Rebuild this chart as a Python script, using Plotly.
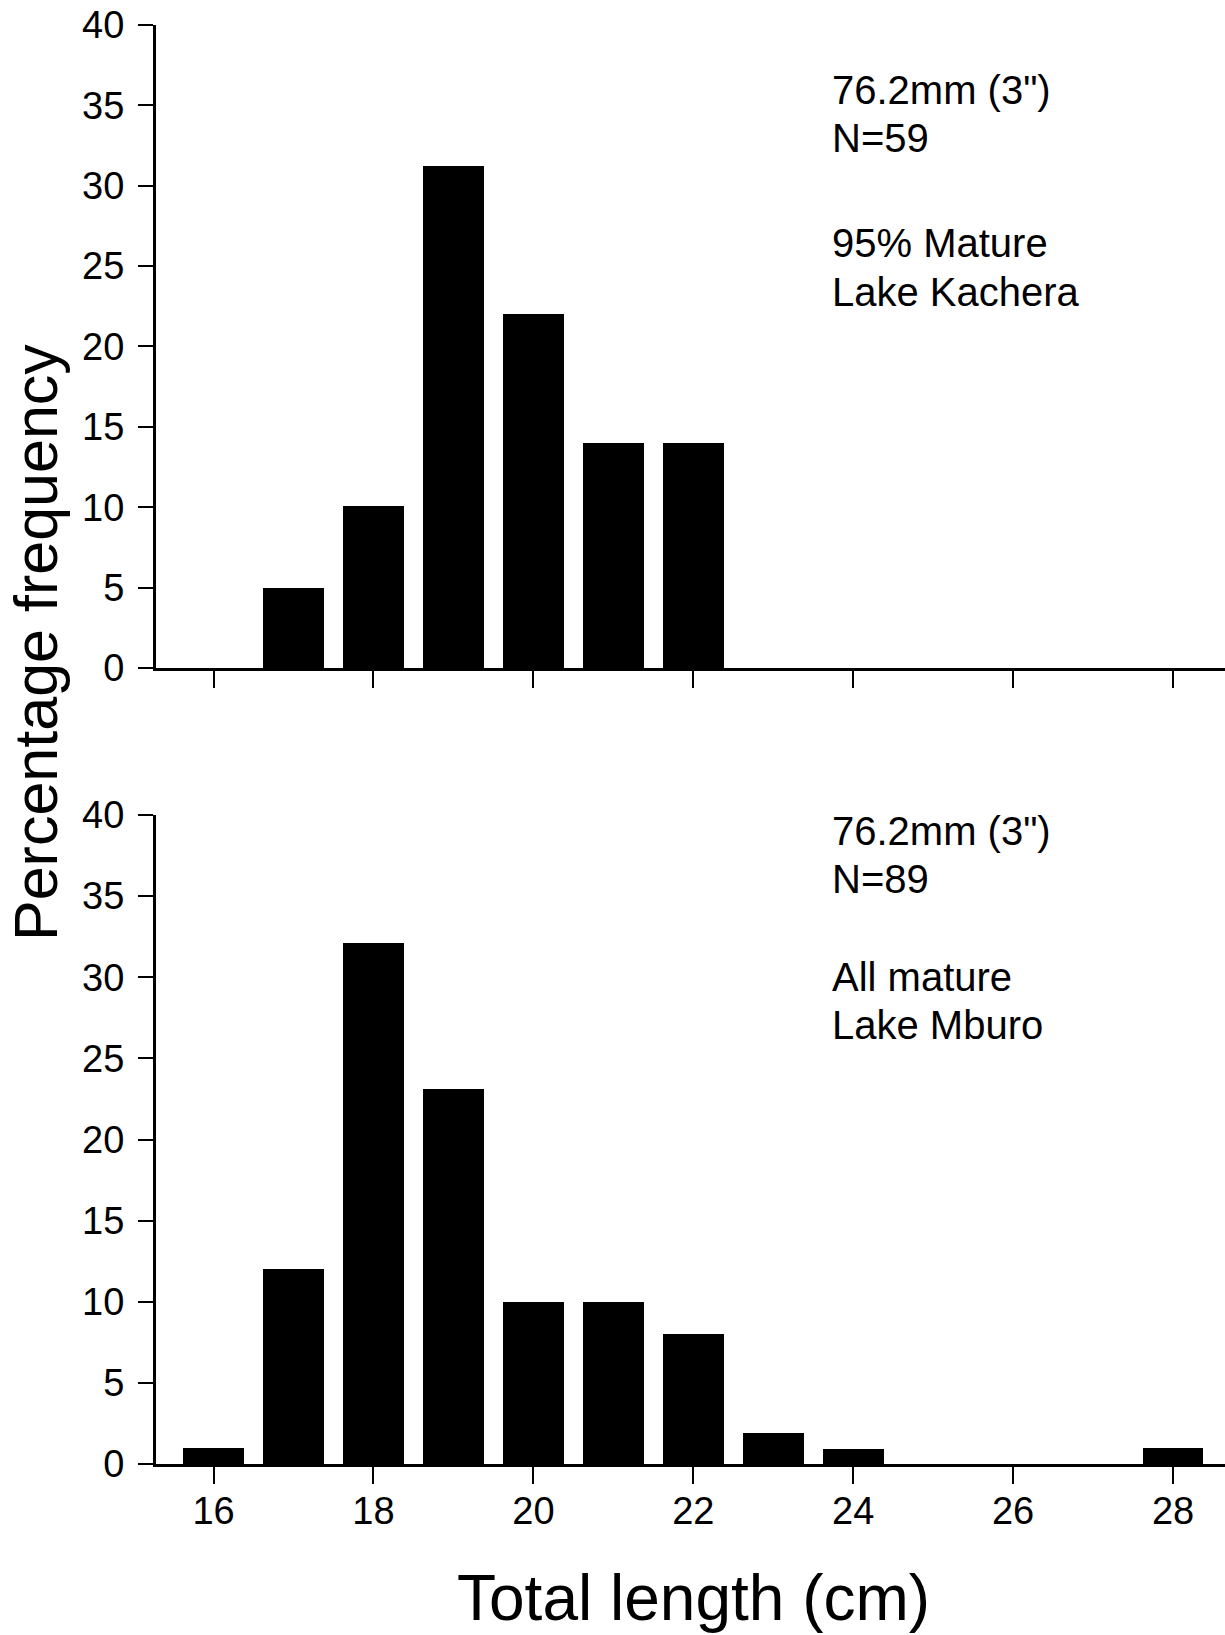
import plotly.graph_objects as go
from plotly.subplots import make_subplots

# Data
top_lengths = [17, 18, 19, 20, 21, 22]
top_freq = [5.0, 10.1, 31.2, 22.0, 14.0, 14.0]

bot_lengths = [16, 17, 18, 19, 20, 21, 22, 23, 24, 28]
bot_freq = [1.0, 12.0, 32.1, 23.1, 10.0, 10.0, 8.0, 1.9, 0.9, 1.0]

x_ticks = [16, 18, 20, 22, 24, 26, 28]
y_ticks = [0, 5, 10, 15, 20, 25, 30, 35, 40]

top_text = ['76.2mm (3")', "N=59", "95% Mature", "Lake Kachera"]
top_text_y = [35.97, 32.95, 26.45, 23.4]
bot_text = ['76.2mm (3")', "N=89", "All mature", "Lake Mburo"]
bot_text_y = [39.0, 36.05, 30.0, 27.05]

W, H = 1225, 1635
L, T, B = 156, 25, 171
fig = make_subplots(rows=2, cols=1, shared_xaxes=False, vertical_spacing=0.1)

fig.add_trace(go.Bar(x=top_lengths, y=top_freq, width=0.76,
                     marker=dict(color="black", line=dict(width=0))), row=1, col=1)
fig.add_trace(go.Bar(x=bot_lengths, y=bot_freq, width=0.76,
                     marker=dict(color="black", line=dict(width=0))), row=2, col=1)

tickfont = dict(family="Liberation Sans", size=38, color="black")
xaxis_common = dict(range=[15.28, 28.65], tickvals=x_ticks, showline=True,
                    linecolor="black", linewidth=3, ticks="outside", ticklen=17,
                    tickwidth=2, tickcolor="black", showgrid=False, zeroline=False,
                    tickfont=tickfont)
yaxis_common = dict(range=[0, 40], tickvals=y_ticks, showline=True,
                    linecolor="black", linewidth=3, ticks="outside", ticklen=15,
                    tickwidth=2, tickcolor="black", showgrid=False, zeroline=False,
                    tickfont=tickfont, ticklabelstandoff=6)

fig.update_layout(
    width=W, height=H,
    margin=dict(l=L, r=0, t=T, b=B),
    plot_bgcolor="white", paper_bgcolor="white",
    showlegend=False, bargap=0,
    font=dict(family="Liberation Sans", color="black"),
    xaxis=dict(**xaxis_common, domain=[0, 1], showticklabels=False),
    xaxis2=dict(**xaxis_common, domain=[0, 1], showticklabels=True, ticklabelstandoff=-6),
    yaxis=dict(**yaxis_common, domain=[0.5532, 1.0]),
    yaxis2=dict(**yaxis_common, domain=[0.0, 0.451]),
)

plot_w = W - L
plot_h = H - T - B
annots = []
for t, yv in zip(top_text, top_text_y):
    annots.append(dict(x=23.71, y=yv, xref="x", yref="y", text=t, showarrow=False,
                       xanchor="left", yanchor="middle",
                       font=dict(family="Liberation Sans", size=40, color="black")))
for t, yv in zip(bot_text, bot_text_y):
    annots.append(dict(x=23.71, y=yv, xref="x2", yref="y2", text=t, showarrow=False,
                       xanchor="left", yanchor="middle",
                       font=dict(family="Liberation Sans", size=40, color="black")))
annots.append(dict(x=(693 - L) / plot_w, y=-0.0931, xref="paper", yref="paper",
                   text="Total length (cm)", showarrow=False, xanchor="center",
                   yanchor="middle",
                   font=dict(family="Liberation Sans", size=64, color="black")))
annots.append(dict(x=(36 - L) / plot_w, y=(H - B - 643) / plot_h, xref="paper", yref="paper",
                   text="Percentage frequency", textangle=-90, showarrow=False,
                   xanchor="center", yanchor="middle",
                   font=dict(family="Liberation Sans", size=61, color="black")))
fig.update_layout(annotations=annots)

fig.write_html("out.html", config={"displayModeBar": False},
               post_script="document.body.style.margin='0';document.body.style.overflow='hidden';")
